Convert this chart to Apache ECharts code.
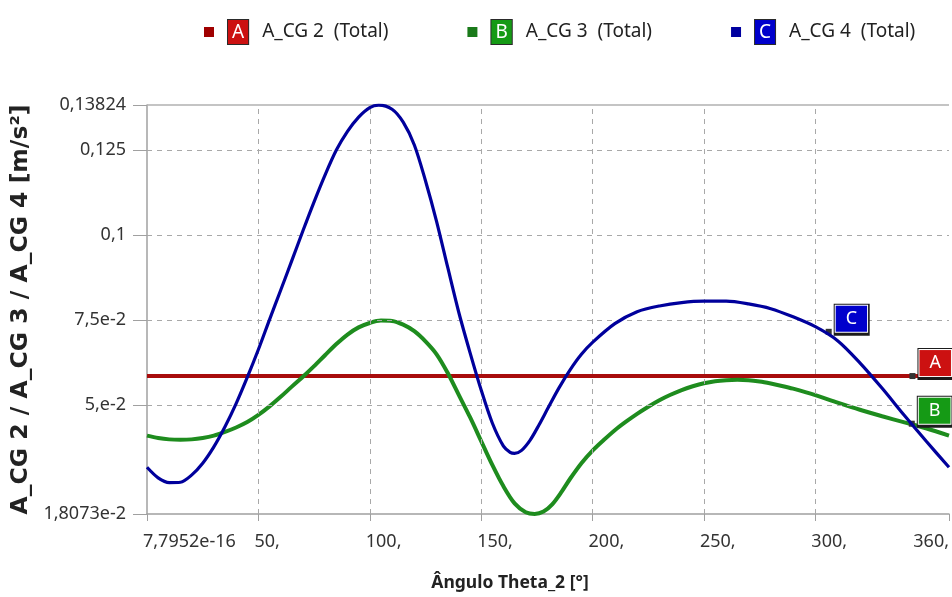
<!DOCTYPE html>
<html>
<head>
<meta charset="utf-8">
<script src="https://cdn.jsdelivr.net/npm/echarts@6/dist/echarts.min.js"></script>
<style>
html,body{margin:0;padding:0;background:#fff;}
#chart{width:952px;height:597px;}
</style>
</head>
<body>
<div id="chart"></div>
<script>
// ---- data ----
const seriesNames = ['A_CG 2  (Total)', 'A_CG 3  (Total)', 'A_CG 4  (Total)'];
const seriesLetters = ['A', 'B', 'C'];

const anglesA = [0, 360];
const valuesA = [0.0586, 0.0586];

const anglesB = [0, 5, 10, 15, 20, 25, 30, 35, 40, 45, 50, 55, 60, 65, 70, 75, 80, 85, 90, 95, 100, 105, 110, 115, 120, 125, 130, 135, 140, 145, 150, 155, 160, 165, 170, 174, 178, 182, 186, 190, 195, 200, 205, 210, 215, 220, 225, 230, 235, 240, 245, 250, 255, 260, 265, 270, 275, 280, 285, 290, 300, 310, 320, 330, 340, 350, 360];
const valuesB = [0.0411, 0.0404, 0.0400, 0.0399, 0.0400, 0.0404, 0.0411, 0.0422, 0.0435, 0.0451, 0.0472, 0.0497, 0.0525, 0.0555, 0.0584, 0.0615, 0.0648, 0.0680, 0.0708, 0.0729, 0.0742, 0.0749, 0.0748, 0.0737, 0.0718, 0.0688, 0.0650, 0.0595, 0.0530, 0.0465, 0.0395, 0.0325, 0.0262, 0.0212, 0.0186, 0.0181, 0.0188, 0.0210, 0.0245, 0.0285, 0.0330, 0.0367, 0.0398, 0.0427, 0.0452, 0.0475, 0.0496, 0.0515, 0.0531, 0.0545, 0.0556, 0.0565, 0.0571, 0.0574, 0.0575, 0.0574, 0.0570, 0.0564, 0.0557, 0.0549, 0.0530, 0.0508, 0.0487, 0.0468, 0.0450, 0.0432, 0.0411];

const anglesC = [0, 5, 10, 15, 20, 25, 30, 35, 40, 45, 50, 55, 60, 65, 70, 75, 80, 85, 90, 95, 100, 104, 110, 115, 120, 125, 130, 135, 140, 145, 150, 155, 160, 163, 165, 168, 172, 176, 180, 185, 190, 195, 200, 210, 220, 230, 240, 250, 260, 270, 280, 290, 300, 310, 320, 330, 340, 350, 360];
const valuesC = [0.0318, 0.0287, 0.0273, 0.0274, 0.0295, 0.0330, 0.0378, 0.0437, 0.0505, 0.0582, 0.0664, 0.0752, 0.0838, 0.0925, 0.1013, 0.1098, 0.1178, 0.1250, 0.1305, 0.1347, 0.1375, 0.1382, 0.1370, 0.1332, 0.1265, 0.1160, 0.1040, 0.0905, 0.0772, 0.0655, 0.0545, 0.0448, 0.0380, 0.0362, 0.0359, 0.0367, 0.0398, 0.0443, 0.0492, 0.0552, 0.0605, 0.0650, 0.0685, 0.0740, 0.0775, 0.0792, 0.0802, 0.0806, 0.0806, 0.0798, 0.0784, 0.0760, 0.0731, 0.0690, 0.0625, 0.0550, 0.0470, 0.0393, 0.0318];

// tag markers (angle, value) for A, B, C
const markerAngles = [343.6, 343.3, 306];
const markerValues = [0.0586, 0.0446, 0.0716];

const xTickValues = [0, 50, 100, 150, 200, 250, 300, 360];
const xTickLabels = ['7,7952e-16', '50,', '100,', '150,', '200,', '250,', '300,', '360,'];
const xGridValues = [50, 100, 150, 200, 250, 300];
const yTickValues = [0.018073, 0.05, 0.075, 0.1, 0.125, 0.13824];
const yTickLabels = ['1,8073e-2', '5,e-2', '7,5e-2', '0,1', '0,125', '0,13824'];
const yGridValues = [0.05, 0.075, 0.1, 0.125];
const xMin = 0, xMax = 360, yMin = 0.018073, yMax = 0.13824;

// ---- styles ----
const lineColors = ['#a80c0c', '#1e8c1e', '#00009c'];
const iconColors = ['#a00000', '#1a7a1a', '#0000a0'];
const boxColors = ['#cc1111', '#159a15', '#0000cc'];
const FONT = '"Noto Sans", "Open Sans", sans-serif';

function pairs(xs, ys) { return xs.map((x, i) => [x, ys[i]]); }
function lookup(vals, labels, v) {
  for (let i = 0; i < vals.length; i++) {
    if (Math.abs(vals[i] - v) < 1e-7 + 1e-6 * Math.abs(vals[i])) return labels[i];
  }
  return '';
}

const allData = [pairs(anglesA, valuesA), pairs(anglesB, valuesB), pairs(anglesC, valuesC)];

const rich = { g: { width: 9, fontSize: 19, fontFamily: FONT } };
seriesLetters.forEach((l, i) => {
  rich[l] = {
    backgroundColor: boxColors[i], color: '#fff', borderColor: '#2a2a2a', borderWidth: 1,
    padding: [3, 4, 2, 4], fontSize: 19, fontFamily: FONT, lineHeight: 20
  };
});
rich.t = { fontSize: 19, color: '#222', fontFamily: FONT, padding: [0, 0, 0, 14] };

const series = allData.map((d, i) => ({
  name: seriesNames[i],
  type: 'line',
  data: d,
  smooth: i === 0 ? false : 0.3,
  showSymbol: false,
  symbol: 'rect',
  z: 3 + i,
  itemStyle: { color: iconColors[i] },
  lineStyle: { color: lineColors[i], width: i === 2 ? 3.2 : 4 },
  markPoint: {
    silent: true,
    animation: false,
    data: [
      {
        coord: [markerAngles[i], markerValues[i]],
        symbol: 'rect',
        symbolSize: [36, 32],
        symbolOffset: [23, -12],
        itemStyle: { color: '#1b1b1b' },
        label: { show: false }
      },
      {
        coord: [markerAngles[i], markerValues[i]],
        symbol: 'rect',
        symbolSize: 6,
        itemStyle: { color: '#333' },
        label: {
          show: true,
          formatter: seriesLetters[i],
          position: [10, -23],
          color: '#fff',
          fontSize: 18,
          lineHeight: 24,
          fontFamily: FONT,
          backgroundColor: boxColors[i],
          borderColor: '#ffffff',
          borderWidth: 1,
          padding: [1, 10, 1, 10]
        }
      }
    ]
  }
}));

// grid lines (dashed) drawn through the axes' scales
series.push({
  name: 'grid',
  type: 'line',
  data: [],
  z: 1,
  silent: true,
  markLine: {
    silent: true,
    precision: 8,
    symbol: 'none',
    animation: false,
    label: { show: false },
    lineStyle: { color: '#a8a8a8', type: [5, 5], width: 1 },
    data: xGridValues.map(v => ({ xAxis: v }))
      .concat(yGridValues.map(v => ({ yAxis: v })))
      .concat([{ yAxis: yMax, lineStyle: { type: 'solid', color: '#b0b0b0', width: 1.5 } }])
  }
});

const option = {
  animation: false,
  backgroundColor: '#ffffff',
  textStyle: { fontFamily: FONT },
  legend: {
    data: seriesNames,
    left: 199,
    top: 14,
    itemGap: 79,
    itemWidth: 10,
    itemHeight: 10,
    icon: 'rect',
    selectedMode: false,
    formatter: name => {
      const i = seriesNames.indexOf(name);
      return '{g|}{' + seriesLetters[i] + '|' + seriesLetters[i] + '}{t|' + name + '}';
    },
    textStyle: { rich: rich, fontFamily: FONT, fontSize: 19 }
  },
  grid: { left: 147, right: 1, top: 105, bottom: 83, containLabel: false },
  xAxis: {
    type: 'value',
    min: xMin, max: xMax, interval: 50,
    name: 'Ângulo Theta_2 [°]',
    nameLocation: 'middle',
    nameGap: 60,
    nameTextStyle: { fontSize: 17.5, fontWeight: 'bold', color: '#222', fontFamily: FONT, padding: [0, 76, 0, 0] },
    axisLine: { show: true, lineStyle: { color: '#a0a0a0', width: 1.5 } },
    axisTick: { show: true, length: 7, customValues: xTickValues, lineStyle: { color: '#a0a0a0' } },
    splitLine: { show: false },
    axisLabel: {
      customValues: xTickValues,
      formatter: v => lookup(xTickValues, xTickLabels, v),
      fontSize: 18, color: '#333', fontFamily: FONT, margin: 19,
      align: 'left', padding: [0, 0, 0, -4],
      alignMaxLabel: 'right', showMaxLabel: true, showMinLabel: true,
      hideOverlap: false
    }
  },
  yAxis: {
    type: 'value',
    min: yMin, max: yMax,
    name: 'A_CG 2 / A_CG 3 / A_CG 4 [m/s²]',
    nameLocation: 'middle',
    nameGap: 107,
    nameRotate: 90,
    nameTextStyle: { fontSize: 23.5, fontWeight: 'bold', color: '#222', fontFamily: '"DejaVu Sans", sans-serif' },
    axisLine: { show: true, lineStyle: { color: '#a0a0a0', width: 1.5 } },
    axisTick: { show: true, length: 14, customValues: yTickValues, lineStyle: { color: '#a0a0a0' } },
    splitLine: { show: false },
    axisLabel: {
      customValues: yTickValues,
      formatter: v => lookup(yTickValues, yTickLabels, v),
      fontSize: 18, color: '#333', fontFamily: FONT, margin: 21,
      showMaxLabel: true, showMinLabel: true, hideOverlap: false
    }
  },
  series: series
};

const chart = echarts.init(document.getElementById('chart'), null, { renderer: 'canvas' });
chart.setOption(option);
</script>
</body>
</html>
